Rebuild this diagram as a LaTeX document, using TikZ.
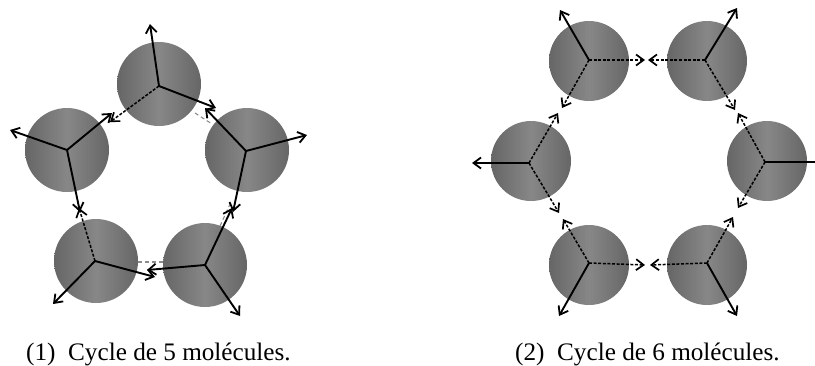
\documentclass[tikz,border=0pt]{standalone}
\usepackage{fontspec}
\setmainfont{Liberation Serif}
\usetikzlibrary{arrows.meta}
\tikzset{
  mol/.style={circle,minimum size=#1,inner sep=0pt,draw=none,left color=black!60,right color=black!60,middle color=black!47},
  mol/.default=84pt,
  solidarrow/.style={draw=black,line width=1.9pt,-{Straight Barb[length=7.5pt,width=11pt,line width=1.8pt]}},
  dasharrow/.style={draw=black,line width=1.5pt,dash pattern=on 3pt off 1.6pt,-{Straight Barb[length=7.5pt,width=11pt,line width=1.7pt]}},
  ghost/.style={draw=black!45,line width=1.1pt,dash pattern=on 4pt off 3pt},
  caption/.style={anchor=base west,inner sep=0pt,font=\fontsize{25.2pt}{27pt}\selectfont},
}
\begin{document}
\begin{tikzpicture}[x=1pt,y=-1pt]
\useasboundingbox (0,0) rectangle (815,365);
% cycle of five
\node[mol] (a) at (159,84) {};
\node[mol] (b) at (247,150) {};
\node[mol] (c) at (205,265) {};
\node[mol] (d) at (96,261) {};
\node[mol] (e) at (67,150) {};
\coordinate (ao) at (159,86);
\coordinate (bo) at (246,151);
\coordinate (co) at (205,265);
\coordinate (do) at (95,261);
\coordinate (eo) at (67,150);
\coordinate (a1) at (150,24);
\coordinate (a2) at (216,108);
\coordinate (a3) at (110,122);
\coordinate (b1) at (307,135);
\coordinate (b2) at (205,108);
\coordinate (b3) at (233,212);
\coordinate (c1) at (147,270);
\coordinate (c2) at (232,208);
\coordinate (c3) at (240,316);
\coordinate (d1) at (79,208);
\coordinate (d2) at (155,277);
\coordinate (d3) at (53,304);
\coordinate (e1) at (10,130);
\coordinate (e2) at (112,113);
\coordinate (e3) at (80,212);
\coordinate (g1) at (195,113);
\coordinate (g2) at (212,124);
\coordinate (g3) at (138,262);
\coordinate (g4) at (165,262);
\coordinate (g5) at (220,226);
\coordinate (g6) at (231,202);
\draw[ghost] (g1) -- (g2);
\draw[ghost] (g3) -- (g4);
\draw[ghost] (g5) -- (g6);
\draw[solidarrow] (ao) -- (a1);
\draw[solidarrow] (ao) -- (a2);
\draw[dasharrow] (ao) -- (a3);
\draw[solidarrow] (bo) -- (b1);
\draw[solidarrow] (bo) -- (b2);
\draw[solidarrow] (bo) -- (b3);
\draw[solidarrow] (co) -- (c1);
\draw[solidarrow] (co) -- (c2);
\draw[solidarrow] (co) -- (c3);
\draw[dasharrow] (do) -- (d1);
\draw[solidarrow] (do) -- (d2);
\draw[solidarrow] (do) -- (d3);
\draw[solidarrow] (eo) -- (e1);
\draw[solidarrow] (eo) -- (e2);
\draw[solidarrow] (eo) -- (e3);
% cycle of six
\node[mol=80pt] (p) at (589,61) {};
\node[mol=80pt] (q) at (707,61) {};
\node[mol=80pt] (r) at (767,161) {};
\node[mol=80pt] (s) at (707,265) {};
\node[mol=80pt] (t) at (589,265) {};
\node[mol=80pt] (u) at (531,161) {};
\coordinate (po) at (589,60);
\coordinate (qo) at (705,60);
\coordinate (ro) at (765,162);
\coordinate (so) at (707,263);
\coordinate (to) at (589,263);
\coordinate (uo) at (529,163);
\coordinate (p1) at (560,10);
\coordinate (p2) at (645,60);
\coordinate (p3) at (562,108);
\coordinate (q1) at (737,8);
\coordinate (q2) at (648,60);
\coordinate (q3) at (735,110);
\coordinate (r1) at (815,162);
\coordinate (r2) at (738,113);
\coordinate (r3) at (738,208);
\coordinate (s1) at (737,316);
\coordinate (s2) at (650,265);
\coordinate (s3) at (733,217);
\coordinate (t1) at (559,316);
\coordinate (t2) at (645,265);
\coordinate (t3) at (563,219);
\coordinate (u1) at (472,163);
\coordinate (u2) at (558,113);
\coordinate (u3) at (559,213);
\draw[solidarrow] (po) -- (p1);
\draw[dasharrow] (po) -- (p2);
\draw[dasharrow] (po) -- (p3);
\draw[solidarrow] (qo) -- (q1);
\draw[dasharrow] (qo) -- (q2);
\draw[dasharrow] (qo) -- (q3);
\draw[draw=black,line width=1.9pt] (ro) -- (r1);
\draw[dasharrow] (ro) -- (r2);
\draw[dasharrow] (ro) -- (r3);
\draw[solidarrow] (so) -- (s1);
\draw[dasharrow] (so) -- (s2);
\draw[dasharrow] (so) -- (s3);
\draw[solidarrow] (to) -- (t1);
\draw[dasharrow] (to) -- (t2);
\draw[dasharrow] (to) -- (t3);
\draw[solidarrow] (uo) -- (u1);
\draw[dasharrow] (uo) -- (u2);
\draw[dasharrow] (uo) -- (u3);
% captions
\node[caption] (cap1) at (26,360) {(1)\hspace{0.5em}Cycle de 5 molécules.};
\node[caption] (cap2) at (515,360) {(2)\hspace{0.5em}Cycle de 6 molécules.};
\end{tikzpicture}
\end{document}
